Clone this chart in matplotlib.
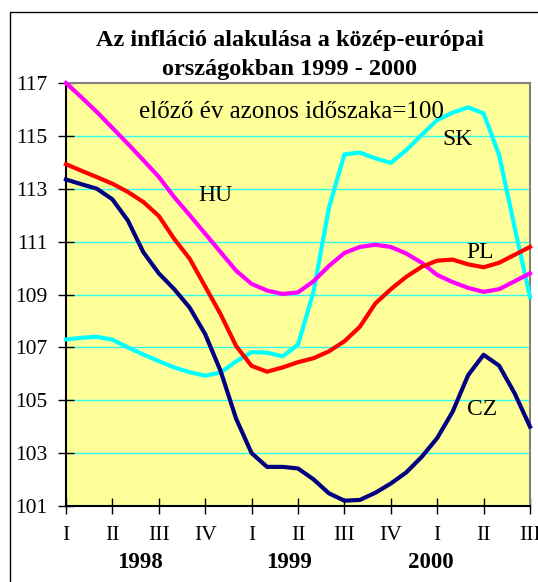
import matplotlib
matplotlib.use("Agg")
import matplotlib.pyplot as plt
from matplotlib.patches import Rectangle

months = list(range(31))
quarter_labels = ["I", "II", "III", "IV", "I", "II", "III", "IV", "I", "II", "III"]
years = ["1998", "1999", "2000"]

hu = [117.0, 116.46, 115.9, 115.3, 114.7, 114.08, 113.45, 112.68, 112.0, 111.3, 110.6,
      109.9, 109.4, 109.15, 109.02, 109.08, 109.5, 110.08, 110.57, 110.8, 110.88,
      110.8, 110.55, 110.2, 109.74, 109.47, 109.25, 109.1, 109.2, 109.5, 109.8]
pl = [113.93, 113.68, 113.44, 113.19, 112.88, 112.5, 111.97, 111.1, 110.35, 109.3, 108.25,
      107.05, 106.3, 106.08, 106.24, 106.44, 106.59, 106.85, 107.23, 107.78, 108.66,
      109.2, 109.67, 110.05, 110.28, 110.32, 110.14, 110.03, 110.2, 110.5, 110.8]
cz = [113.35, 113.17, 113.0, 112.6, 111.8, 110.6, 109.8, 109.2, 108.5, 107.5, 106.1,
      104.3, 103.0, 102.48, 102.48, 102.42, 102.01, 101.48, 101.2, 101.23, 101.5,
      101.85, 102.27, 102.86, 103.57, 104.57, 105.95, 106.72, 106.31, 105.27, 104.0]
sk = [107.3, 107.36, 107.4, 107.29, 107.0, 106.73, 106.48, 106.24, 106.06, 105.93, 106.05,
      106.47, 106.82, 106.8, 106.66, 107.1, 109.1, 112.28, 114.3, 114.37, 114.15,
      113.98, 114.46, 115.04, 115.6, 115.88, 116.08, 115.85, 114.28, 111.56, 108.9]

SERIF = ["Liberation Serif", "DejaVu Serif"]
W, H = 538, 582
fig = plt.figure(figsize=(W / 100, H / 100), dpi=100)

# outer chart frame
fig.patches.append(Rectangle((10 / W, -0.1), 1.2, 1 - 12 / H + 0.1, transform=fig.transFigure,
                             fill=False, edgecolor="black", linewidth=1.0))

ax = fig.add_axes([66 / W, 1 - 506 / H, (530 - 66) / W, (506 - 83) / H])
ax.set_facecolor("#FFFF99")
ax.set_xlim(0, 30)
ax.set_ylim(101, 117)

yt = list(range(101, 118, 2))
ax.set_yticks(yt)
ax.set_yticklabels([str(v) for v in yt], fontfamily=SERIF, fontsize=15.5)
for v in yt[1:-1]:
    ax.axhline(v, color="#33FFEE", linewidth=1.0, zorder=1)

ax.set_xticks(list(range(0, 31, 3)))
ax.set_xticklabels(quarter_labels, fontfamily=SERIF, fontsize=15.5)
ax.tick_params(axis="both", direction="inout", length=11, width=1.0, color="black")
ax.tick_params(axis="x", pad=9)
ax.tick_params(axis="y", pad=8)

for s in ["top", "right"]:
    ax.spines[s].set_color("#808080")
    ax.spines[s].set_linewidth(1.5)
for s in ["left", "bottom"]:
    ax.spines[s].set_color("black")
    ax.spines[s].set_linewidth(1.5)

lw = 3.0
ax.plot(months, sk, color="#00FFFF", linewidth=lw, zorder=3, clip_on=False)
ax.plot(months, hu, color="#FF00FF", linewidth=lw, zorder=3, clip_on=False)
ax.plot(months, pl, color="#FF0000", linewidth=lw, zorder=3, clip_on=False)
ax.plot(months, cz, color="#000080", linewidth=lw, zorder=3, clip_on=False)

lab = dict(fontfamily=SERIF, fontsize=17, ha="center", va="center")
ax.text(9.65, 112.75, "HU", **lab)
ax.text(25.3, 114.88, "SK", **lab)
ax.text(26.8, 110.6, "PL", **lab)
ax.text(26.9, 104.65, "CZ", **lab)
fig.text(291 / W, 1 - 118 / H, "előző év azonos időszaka=100", fontfamily=SERIF,
         fontsize=18, ha="center", va="baseline")

# year labels
for xc, yr in zip([140, 289, 431], years):
    fig.text(xc / W, 1 - 568 / H, yr, fontfamily=SERIF, fontsize=16.5,
             fontweight="bold", ha="center", va="baseline")

fig.text(289.5 / W, 1 - 45.7 / H, "Az infláció alakulása a közép-európai", fontfamily=SERIF,
         fontsize=17.5, fontweight="bold", ha="center", va="baseline")
fig.text(289.5 / W, 1 - 75 / H, "országokban 1999 - 2000", fontfamily=SERIF,
         fontsize=17.5, fontweight="bold", ha="center", va="baseline")

fig.savefig("out.png", dpi=100)
